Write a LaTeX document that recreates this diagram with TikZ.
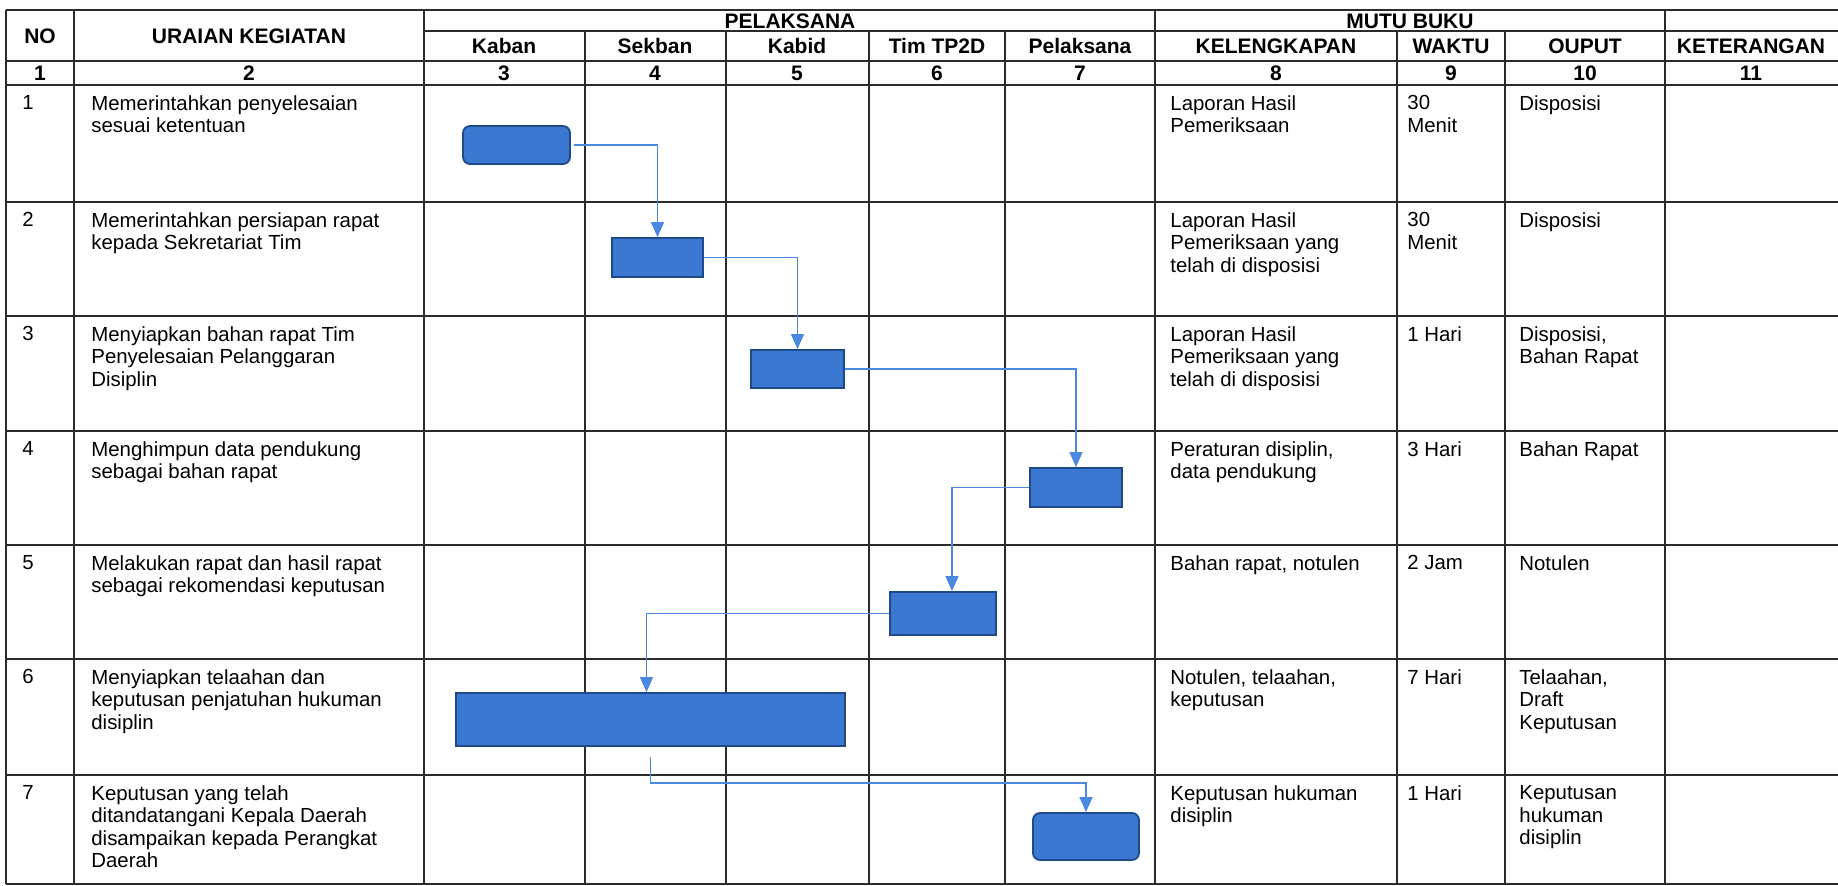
\documentclass[tikz,border=0pt]{standalone}
\usepackage{fontspec}
\setmainfont{Liberation Sans}
\usetikzlibrary{arrows.meta}
\definecolor{boxblue}{HTML}{3B78D2}
\definecolor{boxedge}{HTML}{1E4A8C}
\definecolor{flowblue}{HTML}{4A88E2}
\definecolor{linegray}{HTML}{2B2B2B}
\tikzset{
	tabline/.style={draw=linegray, line width=0.8pt}, % table rules
	act/.style={draw=boxedge, line width=0.9pt, fill=boxblue, inner sep=0pt}, % activity box
	actr/.style={act, rounded corners=3.5pt}, % start / end box
	flow/.style={draw=flowblue, line width=0.7pt, -{Triangle[width=6.5pt,length=7.5pt]}}, % connectors
	hdr/.style={inner sep=0pt, font=\fontsize{10.5}{12}\selectfont\bfseries}, % header text
	txt/.style={anchor=north west, inner sep=0pt, align=left, font=\fontsize{10.2}{11.3}\selectfont}, % cell text
}
\begin{document}
\begin{tikzpicture}[x=0.5pt, y=-0.5pt]
	\useasboundingbox (0,0) rectangle (1838,886);
	\fill[white] (0,0) rectangle (1838,886);

	% table rules
	\foreach \yy in {10,61,85,202,316,431,545,659,775,884}
		\draw[tabline] (6,\yy) -- (1838,\yy);
	\draw[tabline] (424,31) -- (1838,31);
	\foreach \xx in {6,74,424,1155,1665}
		\draw[tabline] (\xx,10) -- (\xx,884);
	\foreach \xx in {585,726,869,1005,1397,1505}
		\draw[tabline] (\xx,31) -- (\xx,884);

	% header
	\node[hdr] (hno) at (40,36) {NO};
	\node[hdr] (hur) at (249,36) {URAIAN KEGIATAN};
	\node[hdr] (hpl) at (790,21) {PELAKSANA};
	\node[hdr] (hmb) at (1410,21) {MUTU BUKU};
	\node[hdr] (hkaban) at (504,46) {Kaban};
	\node[hdr] (hsekban) at (655,46) {Sekban};
	\node[hdr] (hkabid) at (797,46) {Kabid};
	\node[hdr] (htim) at (937,46) {Tim TP2D};
	\node[hdr] (hpel) at (1080,46) {Pelaksana};
	\node[hdr] (hkel) at (1276,46) {KELENGKAPAN};
	\node[hdr] (hwak) at (1451,46) {WAKTU};
	\node[hdr] (hout) at (1585,46) {OUPUT};
	\node[hdr] (hket) at (1751,46) {KETERANGAN};
	\node[hdr] (n1) at (40,73) {1};
	\node[hdr] (n2) at (249,73) {2};
	\node[hdr] (n3) at (504,73) {3};
	\node[hdr] (n4) at (655,73) {4};
	\node[hdr] (n5) at (797,73) {5};
	\node[hdr] (n6) at (937,73) {6};
	\node[hdr] (n7) at (1080,73) {7};
	\node[hdr] (n8) at (1276,73) {8};
	\node[hdr] (n9) at (1451,73) {9};
	\node[hdr] (n10) at (1585,73) {10};
	\node[hdr] (n11) at (1751,73) {11};

	% rows
	\node[txt] (no1) at (22,95) {1};
	\node[txt] (ur1) at (91,95) {Memerintahkan penyelesaian\\sesuai ketentuan};
	\node[txt] (kl1) at (1170,95) {Laporan Hasil\\Pemeriksaan};
	\node[txt] (wk1) at (1407,95) {30\\Menit};
	\node[txt] (op1) at (1519,95) {Disposisi};

	\node[txt] (no2) at (22,212) {2};
	\node[txt] (ur2) at (91,212) {Memerintahkan persiapan rapat\\kepada Sekretariat Tim};
	\node[txt] (kl2) at (1170,212) {Laporan Hasil\\Pemeriksaan yang\\telah di disposisi};
	\node[txt] (wk2) at (1407,212) {30\\Menit};
	\node[txt] (op2) at (1519,212) {Disposisi};

	\node[txt] (no3) at (22,326) {3};
	\node[txt] (ur3) at (91,326) {Menyiapkan bahan rapat Tim\\Penyelesaian Pelanggaran\\Disiplin};
	\node[txt] (kl3) at (1170,326) {Laporan Hasil\\Pemeriksaan yang\\telah di disposisi};
	\node[txt] (wk3) at (1407,326) {1 Hari};
	\node[txt] (op3) at (1519,326) {Disposisi,\\Bahan Rapat};

	\node[txt] (no4) at (22,441) {4};
	\node[txt] (ur4) at (91,441) {Menghimpun data pendukung\\sebagai bahan rapat};
	\node[txt] (kl4) at (1170,441) {Peraturan disiplin,\\data pendukung};
	\node[txt] (wk4) at (1407,441) {3 Hari};
	\node[txt] (op4) at (1519,441) {Bahan Rapat};

	\node[txt] (no5) at (22,555) {5};
	\node[txt] (ur5) at (91,555) {Melakukan rapat dan hasil rapat\\sebagai rekomendasi keputusan};
	\node[txt] (kl5) at (1170,555) {Bahan rapat, notulen};
	\node[txt] (wk5) at (1407,555) {2 Jam};
	\node[txt] (op5) at (1519,555) {Notulen};

	\node[txt] (no6) at (22,669) {6};
	\node[txt] (ur6) at (91,669) {Menyiapkan telaahan dan\\keputusan penjatuhan hukuman\\disiplin};
	\node[txt] (kl6) at (1170,669) {Notulen, telaahan,\\keputusan};
	\node[txt] (wk6) at (1407,669) {7 Hari};
	\node[txt] (op6) at (1519,669) {Telaahan,\\Draft\\Keputusan};

	\node[txt] (no7) at (22,785) {7};
	\node[txt] (ur7) at (91,785) {Keputusan yang telah\\ditandatangani Kepala Daerah\\disampaikan kepada Perangkat\\Daerah};
	\node[txt] (kl7) at (1170,785) {Keputusan hukuman\\disiplin};
	\node[txt] (wk7) at (1407,785) {1 Hari};
	\node[txt] (op7) at (1519,785) {Keputusan\\hukuman\\disiplin};

	% activity boxes
	\node[actr, minimum width=53.5pt, minimum height=19pt] (kaban1) at (516.5,145) {};
	\node[act, minimum width=45.5pt, minimum height=19.5pt] (sekban2) at (657.5,257.5) {};
	\node[act, minimum width=46.5pt, minimum height=19pt] (kabid3) at (797.5,369) {};
	\node[act, minimum width=46pt, minimum height=19.5pt] (pelak4) at (1076,487.5) {};
	\node[act, minimum width=53pt, minimum height=21.5pt] (tim5) at (943,613.5) {};
	\node[act, minimum width=194.5pt, minimum height=26.5pt] (gab6) at (650.5,719.5) {};
	\node[actr, minimum width=53pt, minimum height=23.5pt] (pelak7) at (1086,836.5) {};
	\coordinate (j67) at (1086,783);

	% connectors
	\draw[flow, shorten <=1.5pt] (kaban1.east) -| (sekban2.north);
	\draw[flow] (sekban2.east) -| (kabid3.north);
	\draw[flow] (kabid3.east) -| (pelak4.north);
	\draw[flow] (pelak4.west) -| ([xshift=4.5pt]tim5.north);
	\draw[flow] (tim5.west) -| ([xshift=-2pt]gab6.north);
	\draw[flow, shorten <=5pt] (gab6.south) |- (j67) -- (pelak7.north);
\end{tikzpicture}
\end{document}
